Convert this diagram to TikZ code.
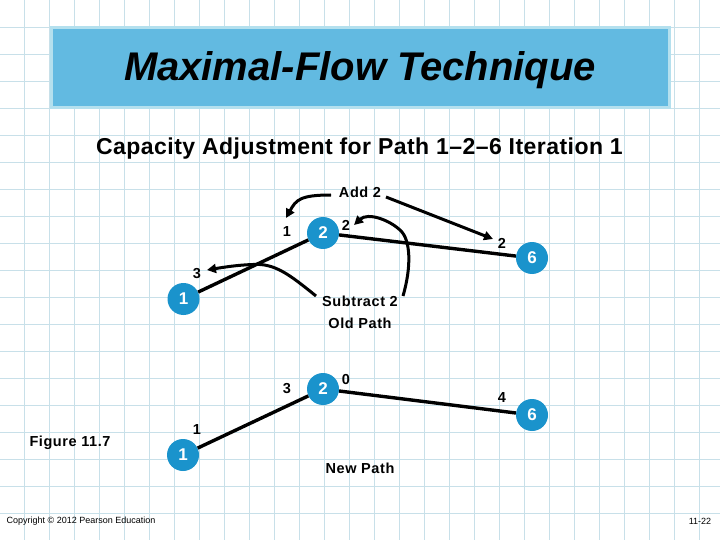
\documentclass[tikz,border=0pt]{standalone}
\usepackage{fontspec}
\setmainfont{Liberation Sans}
\newfontfamily\notefont[LetterSpace=4]{Liberation Sans}
\newfontfamily\subtitlefont[LetterSpace=2]{Liberation Sans}
\usetikzlibrary{arrows.meta}
\definecolor{gridblue}{HTML}{C8E0E9}
\definecolor{bannerblue}{HTML}{62BAE1}
\definecolor{bannerrim}{HTML}{B4E0EE}
\definecolor{nodeblue}{HTML}{1A93CC}
\tikzset{
  flownode/.style={circle,fill=nodeblue,minimum size=32pt,inner sep=0pt,text=white,font=\bfseries\fontsize{17}{17}\selectfont},
  flowarc/.style={line width=3.4pt},
  notearrow/.style={line width=3pt,-{Triangle[length=9pt,width=9pt]}},
  pathnote/.style={inner sep=0pt,font=\notefont\bfseries\fontsize{14.5}{14.5}\selectfont},
  amount/.style={inner sep=0pt,font=\bfseries\fontsize{14.5}{14.5}\selectfont},
}
\begin{document}
\begin{tikzpicture}[x=1pt,y=-1pt]
\useasboundingbox (0,0) rectangle (720,540);
\fill[white] (0,0) rectangle (720,540);
% background grid
\foreach \gx in {0,...,28} \draw[gridblue,line width=0.9pt] ({24.5+25*\gx},0) -- ({24.5+25*\gx},540);
\foreach \gy in {1,...,19} \draw[gridblue,line width=0.9pt] (0,{27*\gy}) -- (720,{27*\gy});
% banner
\node[draw=bannerrim,line width=3pt,fill=bannerblue,minimum width=618pt,minimum height=80pt,inner sep=0pt] (banner) at (360,68) {};
\node[font=\bfseries\itshape\fontsize{40}{40}\selectfont] (title) at (360,70) {Maximal-Flow Technique};
\node[inner sep=0pt,font=\subtitlefont\bfseries\fontsize{23}{23}\selectfont] (subtitle) at (359.5,149) {Capacity Adjustment for Path 1–2–6 Iteration 1};
% old path
\node[flownode] (oldb) at (323,233) {2};
\node[flownode] (olda) at (183.5,299) {1};
\node[flownode] (oldc) at (532,258) {6};
\draw[flowarc] (olda) -- (oldb);
\draw[flowarc] (oldb) -- (oldc);
\node[amount] (oldab) at (287,232) {1};
\node[amount] (oldba) at (197,274) {3};
\node[amount] (oldbc) at (346,225) {2};
\node[amount] (oldcb) at (502,243) {2};
\node[pathnote] (addtwo) at (360,192) {Add 2};
\node[pathnote] (subtwo) at (360,301) {Subtract 2};
\node[pathnote] (oldpath) at (360,323) {Old Path};
\coordinate (addl) at (331,195);
\coordinate (addr) at (386,197);
\coordinate (subl) at (316,296);
\coordinate (subr) at (403,296);
% note arrows
\draw[notearrow] (addl) .. controls (300,195) and (296,200) .. (286,218);
\draw[notearrow] (addr) -- (493,239);
\draw[notearrow] (subl) .. controls (290,275) and (275,263) .. (253,264.5) .. controls (238,265) and (225,267) .. (207,270);
\draw[notearrow] (subr) .. controls (412,265) and (410,240) .. (401,231) .. controls (390,220) and (368,212) .. (354,225);
% new path
\node[flownode] (newb) at (323,389) {2};
\node[flownode] (newa) at (183,455) {1};
\node[flownode] (newc) at (532,415) {6};
\draw[flowarc] (newa) -- (newb);
\draw[flowarc] (newb) -- (newc);
\node[amount] (newab) at (287,389) {3};
\node[amount] (newba) at (197,430) {1};
\node[amount] (newbc) at (346,380) {0};
\node[amount] (newcb) at (502,398) {4};
\node[pathnote] (newpath) at (360,468) {New Path};
% side texts
\node[pathnote] (figure) at (70,443) {Figure 11.7};
\node[inner sep=0pt,font=\fontsize{9}{9}\selectfont] (copyright) at (81,521) {Copyright © 2012 Pearson Education};
\node[inner sep=0pt,font=\fontsize{9}{9}\selectfont] (pagenum) at (700,521) {11-22};
\end{tikzpicture}
\end{document}
